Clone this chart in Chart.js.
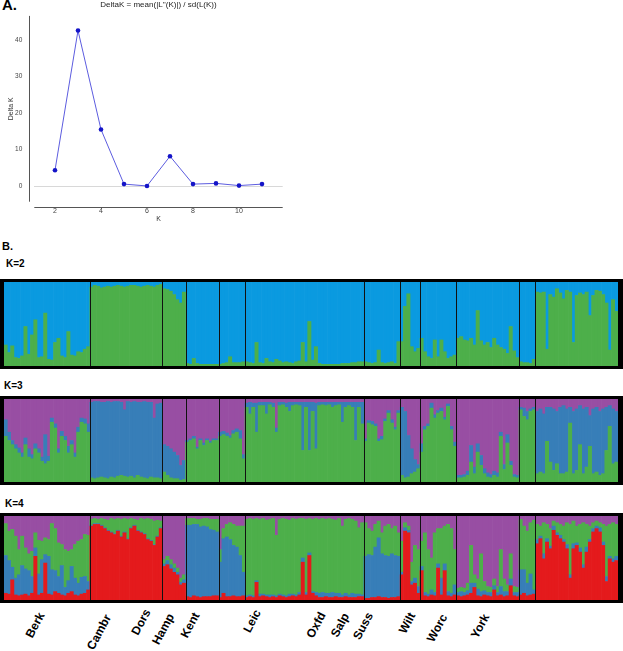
<!DOCTYPE html>
<html lang="en">
<head>
<meta charset="UTF-8">
<title>DeltaK and STRUCTURE plots</title>
<script src="https://cdn.jsdelivr.net/npm/chart.js"></script>
<style>
    body { margin: 0; background: #fff; }
    #page { position: relative; width: 623px; height: 651px; overflow: hidden; background: #fff; font-family: "Liberation Sans", Arial, sans-serif; }
    .tag { position: absolute; font-weight: bold; line-height: 1; color: #000; white-space: nowrap; }
    .frame { position: absolute; left: 0; width: 623px; box-sizing: border-box; border: 3px solid #000; border-left-width: 4px; border-right-width: 5px; }
    .frame canvas { display: block; }
    .pop { position: absolute; font-weight: bold; font-size: 12px; line-height: 1; white-space: nowrap; transform: translate(-50%, -50%) rotate(-62deg); }
</style>
</head>
<body>
<div id="page">
    <div class="tag" style="left:2px;top:-3px;font-size:15px">A.</div>
    <canvas id="deltaK" width="300" height="225" style="position:absolute;left:0;top:0"></canvas>

    <div class="tag" style="left:2px;top:241px;font-size:11px">B.</div>
    <div class="tag" style="left:6px;top:258.5px;font-size:10px">K=2</div>
    <div class="frame" style="top:279px;height:90px"><canvas id="k2" width="614" height="84"></canvas></div>
    <div class="tag" style="left:4px;top:380.5px;font-size:10px">K=3</div>
    <div class="frame" style="top:396px;height:89px"><canvas id="k3" width="614" height="83"></canvas></div>
    <div class="tag" style="left:5px;top:498.5px;font-size:10px">K=4</div>
    <div class="frame" style="top:513px;height:90px"><canvas id="k4" width="614" height="84"></canvas></div>
    <div id="popLabels"></div>
</div>

<script>
// ---- panel A data
const kValues = [2, 3, 4, 5, 6, 7, 8, 9, 10, 11];
const deltaK = [4.4, 42.5, 15.5, 0.6, 0.1, 8.2, 0.6, 0.8, 0.2, 0.6];

// ---- panel B data: populations and number of individuals in each
const pops = ['Berk', 'Cambr', 'Dors', 'Hamp', 'Kent', 'Leic', 'Oxfd', 'Salp', 'Suss', 'Wilt', 'Worc', 'York'];
const popSizes = [26, 22, 7, 10, 8, 36, 11, 6, 11, 19, 5, 25];

// K=2 membership of the green cluster (blue is the rest)
const k2Green = [
    /* Berk */ 0.25,0.16,0.24,0.10,0.09,0.12,0.47,0.14,0.37,0.55,0.10,0.11,0.63,0.08,0.07,0.28,0.33,0.12,0.10,0.41,0.13,0.12,0.17,0.16,0.20,0.23,
    /* Cambr */ 0.94,0.96,0.95,0.93,0.94,0.95,0.94,0.95,0.96,0.95,0.94,0.95,0.96,0.96,0.95,0.94,0.95,0.96,0.95,0.94,0.96,0.97,
    /* Dors */ 0.92,0.91,0.89,0.85,0.79,0.75,0.88,
    /* Hamp */ 0.03,0.02,0.09,0.03,0.02,0.02,0.02,0.02,0.02,0.02,
    /* Kent */ 0.02,0.03,0.04,0.11,0.04,0.04,0.04,0.05,
    /* Leic */ 0.05,0.04,0.03,0.28,0.04,0.03,0.09,0.05,0.04,0.08,0.06,0.04,0.05,0.04,0.03,0.05,0.06,0.28,0.05,0.53,0.07,0.23,0.03,0.02,0.02,0.02,0.02,0.02,0.02,0.03,0.03,0.03,0.04,0.04,0.05,0.05,
    /* Oxfd */ 0.05,0.04,0.03,0.04,0.19,0.04,0.03,0.04,0.05,0.03,0.29,
    /* Salp */ 0.29,0.71,0.86,0.23,0.17,0.21,
    /* Suss */ 0.33,0.17,0.11,0.09,0.31,0.11,0.31,0.17,0.09,0.11,0.13,
    /* Wilt */ 0.33,0.35,0.31,0.30,0.33,0.25,0.66,0.30,0.25,0.28,0.22,0.33,0.25,0.22,0.20,0.15,0.47,0.18,0.10,
    /* Worc */ 0.05,0.04,0.04,0.03,0.08,
    /* York */ 0.88,0.87,0.88,0.20,0.85,0.82,0.92,0.87,0.80,0.90,0.88,0.28,0.84,0.87,0.85,0.88,0.60,0.84,0.90,0.89,0.85,0.75,0.19,0.79,0.65
];

// K=3 green and blue clusters (purple is the rest)
const k3Green = [
    /* Berk */ 0.55,0.5,0.45,0.4,0.35,0.3,0.45,0.3,0.28,0.4,0.35,0.25,0.22,0.25,0.72,0.65,0.35,0.55,0.5,0.35,0.45,0.3,0.6,0.72,0.7,0.6,
    /* Cambr */ 0.05,0.04,0.05,0.06,0.05,0.04,0.06,0.05,0.07,0.08,0.07,0.06,0.07,0.05,0.08,0.06,0.05,0.04,0.06,0.05,0.05,0.04,
    /* Dors */ 0.12,0.08,0.05,0.04,0.04,0.02,0.03,
    /* Hamp */ 0.48,0.5,0.52,0.4,0.5,0.44,0.5,0.47,0.5,0.5,
    /* Kent */ 0.55,0.57,0.55,0.53,0.58,0.6,0.52,0.28,
    /* Leic */ 0.9,0.82,0.9,0.6,0.92,0.92,0.82,0.93,0.9,0.6,0.92,0.93,0.9,0.85,0.92,0.93,0.92,0.38,0.9,0.38,0.85,0.4,0.92,0.93,0.92,0.93,0.9,0.92,0.93,0.72,0.9,0.92,0.9,0.5,0.9,0.7,
    /* Oxfd */ 0.49,0.71,0.69,0.67,0.49,0.51,0.73,0.83,0.71,0.63,0.83,
    /* Salp */ 0.08,0.05,0.06,0.1,0.12,0.16,
    /* Suss */ 0.36,0.63,0.67,0.89,0.77,0.83,0.85,0.75,0.91,0.63,0.43,
    /* Wilt */ 0.05,0.05,0.06,0.08,0.24,0.1,0.36,0.2,0.1,0.06,0.05,0.08,0.06,0.55,0.15,0.47,0.2,0.06,0.05,
    /* Worc */ 0.87,0.79,0.75,0.85,0.87,
    /* York */ 0.1,0.12,0.1,0.49,0.24,0.14,0.22,0.1,0.1,0.12,0.71,0.1,0.14,0.45,0.1,0.18,0.43,0.1,0.12,0.08,0.1,0.38,0.67,0.22,0.24
];
const k3Blue = [
    /* Berk */ 0.2,0.1,0.05,0.05,0.06,0.05,0.08,0.1,0.05,0.06,0.05,0.05,0.35,0.06,0.05,0.05,0.05,0.06,0.05,0.08,0.05,0.05,0.06,0.05,0.06,0.1,
    /* Cambr */ 0.91,0.93,0.92,0.90,0.91,0.93,0.90,0.92,0.90,0.88,0.80,0.91,0.89,0.92,0.88,0.90,0.92,0.92,0.90,0.72,0.89,0.91,
    /* Dors */ 0.33,0.35,0.35,0.32,0.28,0.18,0.23,
    /* Hamp */ 0.02,0.02,0.03,0.02,0.02,0.03,0.02,0.02,0.02,0.02,
    /* Kent */ 0.05,0.04,0.04,0.03,0.04,0.04,0.1,0.05,
    /* Leic */ 0.05,0.14,0.05,0.35,0.04,0.04,0.14,0.03,0.05,0.05,0.04,0.03,0.05,0.11,0.04,0.03,0.04,0.58,0.06,0.58,0.11,0.55,0.04,0.03,0.04,0.03,0.06,0.04,0.03,0.24,0.06,0.04,0.06,0.46,0.06,0.26,
    /* Oxfd */ 0.03,0.03,0.04,0.03,0.03,0.04,0.03,0.03,0.04,0.03,0.03,
    /* Salp */ 0.82,0.8,0.5,0.3,0.15,0.05,
    /* Suss */ 0.1,0.04,0.03,0.06,0.04,0.03,0.04,0.03,0.03,0.04,0.05,
    /* Wilt */ 0.03,0.03,0.03,0.05,0.2,0.08,0.1,0.12,0.06,0.05,0.04,0.05,0.05,0.05,0.06,0.1,0.05,0.03,0.03,
    /* Worc */ 0.03,0.1,0.1,0.03,0.03,
    /* York */ 0.75,0.76,0.72,0.41,0.66,0.74,0.63,0.8,0.82,0.76,0.19,0.75,0.74,0.47,0.78,0.72,0.37,0.78,0.78,0.77,0.78,0.52,0.25,0.66,0.61
];

// K=4 red, blue and purple clusters (green is the rest)
const k4Red = [
    /* Berk */ 0.08,0.07,0.24,0.06,0.05,0.06,0.07,0.05,0.08,0.52,0.06,0.08,0.44,0.07,0.06,0.1,0.08,0.06,0.05,0.08,0.1,0.06,0.05,0.07,0.08,0.12,
    /* Cambr */ 0.88,0.9,0.9,0.88,0.85,0.82,0.8,0.78,0.82,0.75,0.8,0.72,0.85,0.88,0.82,0.8,0.78,0.72,0.7,0.65,0.75,0.85,
    /* Dors */ 0.4,0.42,0.37,0.33,0.3,0.18,0.2,
    /* Hamp */ 0.04,0.03,0.05,0.04,0.03,0.04,0.04,0.04,0.05,0.05,
    /* Kent */ 0.03,0.08,0.04,0.04,0.05,0.04,0.04,0.05,
    /* Leic */ 0.03,0.04,0.03,0.21,0.04,0.05,0.04,0.03,0.04,0.03,0.05,0.04,0.03,0.04,0.05,0.04,0.06,0.45,0.06,0.53,0.08,0.05,0.03,0.03,0.04,0.03,0.03,0.04,0.03,0.03,0.04,0.03,0.03,0.03,0.04,0.04,
    /* Oxfd */ 0.02,0.02,0.03,0.03,0.04,0.03,0.03,0.02,0.03,0.03,0.04,
    /* Salp */ 0.3,0.82,0.8,0.18,0.2,0.08,
    /* Suss */ 0.35,0.05,0.04,0.06,0.05,0.38,0.06,0.35,0.05,0.04,0.06,
    /* Wilt */ 0.05,0.04,0.05,0.06,0.08,0.15,0.05,0.04,0.06,0.05,0.04,0.12,0.05,0.06,0.04,0.05,0.17,0.05,0.04,
    /* Worc */ 0.06,0.08,0.05,0.06,0.07,
    /* York */ 0.67,0.73,0.49,0.69,0.61,0.83,0.77,0.73,0.69,0.61,0.26,0.61,0.65,0.57,0.38,0.57,0.69,0.81,0.85,0.81,0.65,0.22,0.49,0.45,0.47
];
const k4Blue = [
    /* Berk */ 0.45,0.4,0.15,0.2,0.25,0.35,0.3,0.3,0.2,0.1,0.25,0.4,0.1,0.45,0.3,0.25,0.2,0.35,0.1,0.15,0.3,0.2,0.15,0.2,0.2,0.1,
    /* Cambr */ 0.01,0.01,0.01,0.01,0.01,0.01,0.01,0.01,0.01,0.01,0.01,0.01,0.01,0.01,0.01,0.01,0.01,0.01,0.01,0.01,0.01,0.01,
    /* Dors */ 0.03,0.05,0.05,0.05,0.03,0.03,0.04,
    /* Hamp */ 0.85,0.86,0.85,0.86,0.84,0.84,0.83,0.8,0.78,0.76,
    /* Kent */ 0.42,0.65,0.71,0.68,0.6,0.59,0.49,0.28,
    /* Leic */ 0.02,0.02,0.02,0.02,0.03,0.02,0.02,0.03,0.02,0.02,0.02,0.02,0.02,0.03,0.02,0.02,0.03,0.05,0.03,0.03,0.02,0.04,0.05,0.06,0.04,0.05,0.06,0.04,0.05,0.03,0.04,0.03,0.05,0.04,0.03,0.02,
    /* Oxfd */ 0.5,0.52,0.5,0.6,0.7,0.52,0.5,0.5,0.52,0.5,0.48,
    /* Salp */ 0.03,0.04,0.03,0.04,0.06,0.08,
    /* Suss */ 0.05,0.04,0.03,0.06,0.04,0.05,0.2,0.08,0.05,0.04,0.12,
    /* Wilt */ 0.04,0.06,0.04,0.05,0.12,0.05,0.08,0.06,0.05,0.04,0.05,0.05,0.04,0.1,0.06,0.05,0.08,0.04,0.05,
    /* Worc */ 0.3,0.28,0.15,0.25,0.05,
    /* York */ 0.05,0.03,0.06,0.04,0.03,0.05,0.03,0.04,0.03,0.05,0.04,0.06,0.03,0.05,0.04,0.06,0.03,0.04,0.03,0.05,0.04,0.06,0.03,0.04,0.05
];
const k4Purple = [
    /* Berk */ 0.09,0.18,0.16,0.24,0.4,0.24,0.38,0.45,0.42,0.2,0.29,0.3,0.26,0.28,0.09,0.15,0.32,0.34,0.4,0.42,0.4,0.34,0.3,0.28,0.22,0.23,
    /* Cambr */ 0.04,0.03,0.04,0.03,0.04,0.05,0.03,0.04,0.03,0.04,0.03,0.04,0.03,0.04,0.05,0.03,0.04,0.03,0.04,0.06,0.05,0.06,
    /* Dors */ 0.52,0.48,0.52,0.57,0.62,0.74,0.7,
    /* Hamp */ 0.03,0.03,0.03,0.04,0.04,0.03,0.03,0.04,0.04,0.04,
    /* Kent */ 0.4,0.15,0.1,0.08,0.1,0.12,0.12,0.12,
    /* Leic */ 0.04,0.03,0.04,0.03,0.04,0.03,0.05,0.04,0.03,0.23,0.04,0.03,0.04,0.05,0.03,0.04,0.03,0.03,0.04,0.03,0.04,0.03,0.04,0.03,0.04,0.03,0.04,0.05,0.03,0.12,0.04,0.03,0.04,0.06,0.14,0.08,
    /* Oxfd */ 0.08,0.15,0.18,0.1,0.06,0.2,0.12,0.1,0.15,0.12,0.2,
    /* Salp */ 0.3,0.08,0.12,0.55,0.35,0.4,
    /* Suss */ 0.3,0.2,0.4,0.5,0.2,0.15,0.15,0.12,0.1,0.15,0.4,
    /* Wilt */ 0.86,0.85,0.86,0.8,0.35,0.7,0.75,0.45,0.78,0.84,0.85,0.75,0.84,0.4,0.75,0.82,0.45,0.84,0.85,
    /* Worc */ 0.04,0.12,0.18,0.08,0.05,
    /* York */ 0.1,0.12,0.08,0.1,0.15,0.06,0.08,0.1,0.12,0.08,0.1,0.06,0.12,0.1,0.08,0.1,0.12,0.08,0.06,0.08,0.1,0.12,0.1,0.08,0.1
];

// colours
const RED = '#e41a1c', BLUE = '#377eb8', GREEN = '#4daf4a', PURPLE = '#984ea3', SKY = '#0a9ae0';

// where the rotated population names sit (centre points)
const labelPos = [[35,625], [99,632], [141,622], [163,629], [190,625], [252,621], [316,625], [340,625], [363,626], [407,623], [437,628], [480,626]];

// the last cluster of each K fills up to 1
function remainder(...arrs) {
    return arrs[0].map((_, i) => Math.max(0, 1 - arrs.reduce((s, a) => s + a[i], 0)));
}

// thin black lines between populations
const popLines = {
    id: 'popLines',
    afterDatasetsDraw(chart) {
        const xs = chart.scales.x, a = chart.chartArea, ctx = chart.ctx;
        ctx.save();
        ctx.strokeStyle = '#111';
        ctx.lineWidth = 1;
        let n = 0;
        popSizes.slice(0, -1).forEach(size => {
            n += size;
            const x = Math.round((xs.getPixelForValue(n - 1) + xs.getPixelForValue(n)) / 2) + 0.5;
            ctx.beginPath();
            ctx.moveTo(x, a.top);
            ctx.lineTo(x, a.bottom);
            ctx.stroke();
        });
        ctx.restore();
    }
};

function structurePlot(id, layers) {
    const labels = k2Green.map((_, i) => i + 1);
    new Chart(document.getElementById(id), {
        type: 'bar',
        data: {
            labels: labels,
            datasets: layers.map(l => ({
                data: l.data,
                backgroundColor: l.color,
                borderWidth: 0,
                categoryPercentage: 1,
                barPercentage: 1
            }))
        },
        options: {
            responsive: false,
            animation: false,
            layout: { padding: 0 },
            plugins: { legend: { display: false }, tooltip: { enabled: false } },
            scales: {
                x: { display: false, stacked: true },
                y: { display: false, stacked: true, min: 0, max: 1 }
            }
        },
        plugins: [popLines]
    });
}

structurePlot('k2', [
    { data: k2Green, color: GREEN },
    { data: remainder(k2Green), color: SKY }
]);
structurePlot('k3', [
    { data: k3Green, color: GREEN },
    { data: k3Blue, color: BLUE },
    { data: remainder(k3Green, k3Blue), color: PURPLE }
]);
structurePlot('k4', [
    { data: k4Red, color: RED },
    { data: k4Blue, color: BLUE },
    { data: remainder(k4Red, k4Blue, k4Purple), color: GREEN },
    { data: k4Purple, color: PURPLE }
]);

// offset spines + title for the DeltaK plot
const spines = {
    id: 'spines',
    afterDraw(chart) {
        const ctx = chart.ctx, a = chart.chartArea;
        ctx.save();
        ctx.strokeStyle = '#555';
        ctx.lineWidth = 1;
        ctx.beginPath();
        ctx.moveTo(Math.round(a.left - 5) + 0.5, a.top);
        ctx.lineTo(Math.round(a.left - 5) + 0.5, a.bottom);
        ctx.moveTo(a.left, Math.round(a.bottom + 5) + 0.5);
        ctx.lineTo(a.right, Math.round(a.bottom + 5) + 0.5);
        ctx.stroke();
        ctx.fillStyle = '#222';
        ctx.font = '8px "Liberation Sans", Arial, sans-serif';
        ctx.textAlign = 'center';
        ctx.textBaseline = 'middle';
        ctx.fillText("DeltaK = mean(|L''(K)|) / sd(L(K))", (a.left + a.right) / 2, 5);
        ctx.restore();
    }
};

const tickFont = { size: 7, family: '"Liberation Sans", Arial, sans-serif' };
new Chart(document.getElementById('deltaK'), {
    type: 'line',
    data: {
        datasets: [{
            data: kValues.map((k, i) => ({ x: k, y: deltaK[i] })),
            borderColor: '#5c5cdf',
            borderWidth: 1,
            pointRadius: 2.3,
            pointBackgroundColor: '#1414c8',
            pointBorderWidth: 0,
            tension: 0
        }]
    },
    options: {
        responsive: false,
        animation: false,
        layout: { padding: { top: 10.7, right: 17.3, left: 0, bottom: 0 } },
        plugins: { legend: { display: false }, tooltip: { enabled: false } },
        scales: {
            x: {
                type: 'linear', min: 1.1, max: 11.9,
                ticks: { stepSize: 2, includeBounds: false, padding: 5, color: '#444', font: tickFont },
                grid: { display: false, drawTicks: false },
                border: { display: false },
                title: { display: true, text: 'K', color: '#333', font: { size: 7, family: tickFont.family }, padding: { top: 0, bottom: 2 } },
                afterFit: s => { s.height = 23.3; }
            },
            y: {
                min: -4.2, max: 46.5,
                ticks: { stepSize: 10, includeBounds: false, padding: 12, color: '#444', font: { size: 6.5, family: tickFont.family } },
                grid: { drawTicks: false, color: c => (c.tick && c.tick.value === 0) ? '#d8d8d8' : 'rgba(0,0,0,0)' },
                border: { display: false },
                title: { display: true, text: 'Delta K', color: '#333', font: { size: 7, family: tickFont.family }, padding: { top: 7, bottom: 0 } },
                afterFit: s => { s.width = 34.3; }
            }
        }
    },
    plugins: [spines]
});

// population names under the K=4 plot
const holder = document.getElementById('popLabels');
pops.forEach((name, i) => {
    const d = document.createElement('div');
    d.className = 'pop';
    d.textContent = name;
    d.style.left = labelPos[i][0] + 'px';
    d.style.top = labelPos[i][1] + 'px';
    holder.appendChild(d);
});
</script>
</body>
</html>
